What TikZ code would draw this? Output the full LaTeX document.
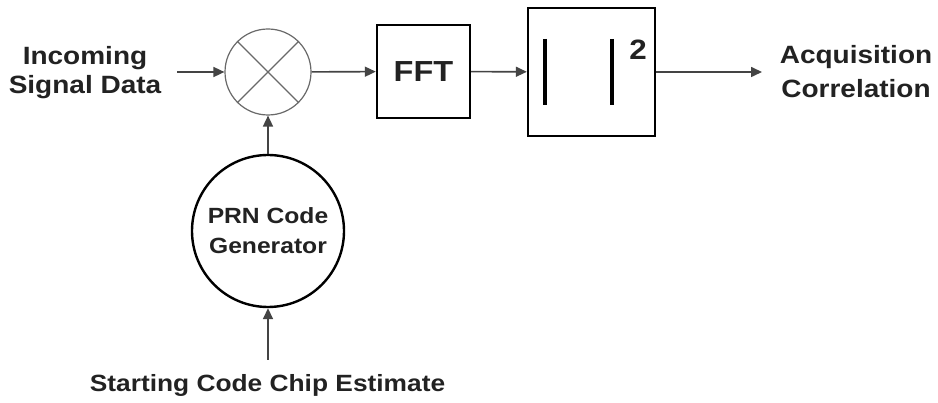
\documentclass[tikz,border=0pt]{standalone}
\usepackage{fontspec}
\setmainfont{Liberation Sans}
\newfontfamily\lab[FakeStretch=1.12]{Liberation Sans}
\usetikzlibrary{arrows.meta}
\definecolor{txt}{HTML}{222222}
\definecolor{ln}{HTML}{444444}
\tikzset{
  lbl/.style={text=txt, align=center, inner sep=0pt, font=\lab\bfseries\fontsize{25}{29}\selectfont},
  arr/.style={draw=ln, line width=1.6pt, -{Triangle[length=11pt,width=10pt]}},
  blk/.style={draw=black, line width=2.4pt, inner sep=0pt},
  mixer/.style={circle, draw=ln!80, line width=1.2pt, minimum size=86pt, inner sep=0pt},
  gen/.style={circle, draw=black, line width=2.4pt, minimum size=152pt, inner sep=0pt, text=txt, align=center, font=\lab\bfseries\fontsize{22}{30}\selectfont},
}
\begin{document}
\begin{tikzpicture}[x=1pt,y=-1pt]
\useasboundingbox (0,0) rectangle (938,403);
\fill[white] (0,0) rectangle (938,403);
% nodes
\node[lbl] (in) at (85,73) {Incoming\\Signal Data};
\node[mixer] (mix) at (268,72) {};
\draw[ln!80, line width=1.2pt] (mix.45) -- (mix.225) (mix.135) -- (mix.315);
\node[blk, minimum width=93pt, minimum height=93pt, text=txt, font=\lab\bfseries\fontsize{29}{32}\selectfont] (fft) at (423.5,71.5) {FFT};
\node[blk, minimum width=127pt, minimum height=128pt] (abs) at (591.5,72) {};
\draw[black, line width=3.2pt] (545,39) -- (545,105) (612,39) -- (612,105);
\node[text=txt, inner sep=0pt, font=\lab\bfseries\fontsize{28}{30}\selectfont] (sq) at (638,50) {2};
\node[lbl, font=\lab\bfseries\fontsize{25}{34}\selectfont] (out) at (856,72) {Acquisition\\Correlation};
\node[gen] (prn) at (268,231) {PRN Code\\Generator};
\node[lbl, anchor=base, font=\lab\bfseries\fontsize{23.5}{28}\selectfont] (start) at (267.5,392) {Starting Code Chip Estimate};
\coordinate (inS) at (177,72);
\coordinate (outE) at (762,72);
\coordinate (startN) at (268,360);
% connectors
\draw[arr] (inS) -- (mix);
\draw[arr] (mix) -- (fft);
\draw[arr] (fft) -- (abs);
\draw[arr] (abs) -- (outE);
\draw[arr] (prn) -- (mix);
\draw[arr] (startN) -- (prn);
\end{tikzpicture}
\end{document}
